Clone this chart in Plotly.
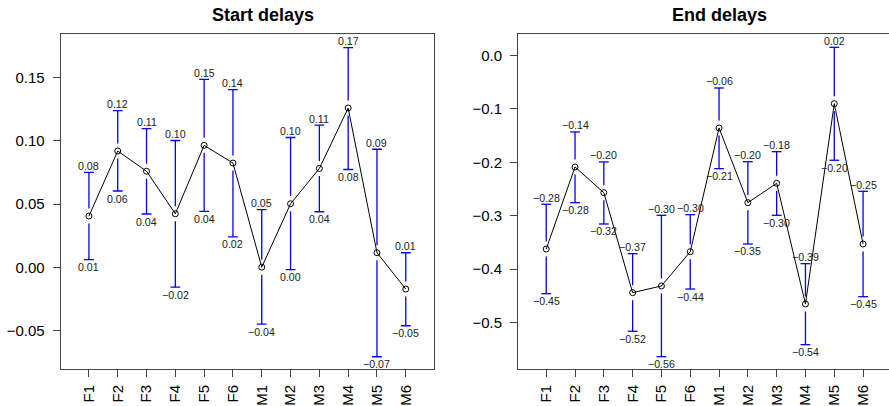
import plotly.graph_objects as go

# Participants on the x axis
categories = ["F1", "F2", "F3", "F4", "F5", "F6", "M1", "M2", "M3", "M4", "M5", "M6"]

# Start delays: mean with lower/upper confidence limits
start_mean = [0.0406, 0.0920, 0.0760, 0.0424, 0.0965, 0.0825, 0.0002, 0.0503, 0.0782, 0.1260, 0.0116, -0.0171]
start_lower = [0.0062, 0.0604, 0.0422, -0.0156, 0.0443, 0.0242, -0.0448, -0.0018, 0.0440, 0.0774, -0.0706, -0.0461]
start_upper = [0.0752, 0.1239, 0.1097, 0.1003, 0.1487, 0.1406, 0.0456, 0.1027, 0.1124, 0.1738, 0.0934, 0.0116]

# End delays: mean with lower/upper confidence limits
end_mean = [-0.3625, -0.2087, -0.2569, -0.4444, -0.4318, -0.3675, -0.1356, -0.2756, -0.2393, -0.4656, -0.0900, -0.3531]
end_lower = [-0.4463, -0.2756, -0.3156, -0.5168, -0.5644, -0.4376, -0.2119, -0.3531, -0.2993, -0.5419, -0.1961, -0.4519]
end_upper = [-0.2786, -0.1431, -0.1993, -0.3713, -0.2993, -0.2981, -0.0606, -0.1988, -0.1800, -0.3900, 0.0156, -0.2543]

W, H = 889, 406
M_TOP, M_BOT = 34, 37
PLOT_H = H - M_TOP - M_BOT

left_dom = [60.7 / W, 434 / W]
right_dom = [518 / W, 1.0]
left_yr = [-0.0803, 0.1845]
right_yr = [-0.5875, 0.0406]
left_xr = [0.02, 12.98]
right_xr = [0.02, 0.02 + (W - 518) / ((434 - 60.7) / 12.96)]

AXIS_COL = "#444444"
BAR_COL = "#0000FF"
CAP_HALF = 0.17      # half cap width, x units
GAP_PX = 7.5         # blank space around each mean point, pixels
MINUS = "\u2212"


def fmt(v):
    r = round(v, 2)
    s = f"{abs(v):.2f}"
    return MINUS + s if r < 0 else s


def ci_panel(fig, mean, lower, upper, yr, xa, ya):
    gap = GAP_PX * (yr[1] - yr[0]) / PLOT_H
    xs, ys = [], []
    for i, (m, lo, hi) in enumerate(zip(mean, lower, upper)):
        x = i + 1
        if hi - m > gap:
            xs += [x, x, None]
            ys += [m + gap, hi, None]
        if m - lo > gap:
            xs += [x, x, None]
            ys += [m - gap, lo, None]
        xs += [x - CAP_HALF, x + CAP_HALF, None, x - CAP_HALF, x + CAP_HALF, None]
        ys += [hi, hi, None, lo, lo, None]
    fig.add_trace(go.Scatter(x=xs, y=ys, mode="lines", line=dict(color=BAR_COL, width=1.3),
                             xaxis=xa, yaxis=ya, hoverinfo="skip", showlegend=False))
    fig.add_trace(go.Scatter(x=list(range(1, len(mean) + 1)), y=mean, mode="lines+markers",
                             line=dict(color="black", width=1),
                             marker=dict(symbol="circle-open", size=6, color="black",
                                         line=dict(width=1)),
                             xaxis=xa, yaxis=ya, showlegend=False))
    for i, (lo, hi) in enumerate(zip(lower, upper)):
        x = i + 1
        fig.add_annotation(x=x, y=hi, xref=xa, yref=ya, text=fmt(hi), showarrow=False,
                           yanchor="middle", yshift=6.5, font=dict(size=10.6, color="#222"))
        fig.add_annotation(x=x, y=lo, xref=xa, yref=ya, text=fmt(lo), showarrow=False,
                           yanchor="middle", yshift=-7.5, font=dict(size=10.6, color="#222"))


fig = go.Figure()
ci_panel(fig, start_mean, start_lower, start_upper, left_yr, "x", "y")
ci_panel(fig, end_mean, end_lower, end_upper, right_yr, "x2", "y2")

xcommon = dict(tickmode="array", tickvals=list(range(1, 13)), ticktext=categories,
               tickangle=-90, ticks="outside", ticklen=7, tickcolor=AXIS_COL, tickwidth=1,
               showline=True, linecolor=AXIS_COL, linewidth=1, showgrid=False, zeroline=False,
               tickfont=dict(size=15, color="black"), ticklabelstandoff=2)
ycommon = dict(ticks="outside", ticklen=7, tickcolor=AXIS_COL, tickwidth=1,
               showline=True, linecolor=AXIS_COL, linewidth=1, showgrid=False, zeroline=False,
               tickfont=dict(size=15, color="black"), ticklabelstandoff=5)

fig.update_layout(
    width=W, height=H,
    margin=dict(l=0, r=0, t=M_TOP, b=M_BOT, autoexpand=False),
    paper_bgcolor="white", plot_bgcolor="white",
    font=dict(family="Liberation Sans, Arial, sans-serif", color="black"),
    xaxis=dict(domain=left_dom, range=left_xr, mirror=True, anchor="y", **xcommon),
    yaxis=dict(domain=[0, 1], range=left_yr, mirror=True, anchor="x",
               tickvals=[-0.05, 0.0, 0.05, 0.10, 0.15], tickformat=".2f", **ycommon),
    xaxis2=dict(domain=right_dom, range=right_xr, mirror=True, anchor="y2", **xcommon),
    yaxis2=dict(domain=[0, 1], range=right_yr, mirror=False, anchor="x2",
                tickvals=[-0.5, -0.4, -0.3, -0.2, -0.1, 0.0], tickformat=".1f", **ycommon),
)

for label, xc in (("Start delays", 263), ("End delays", 719.5)):
    fig.add_annotation(x=xc / W, y=1 + (M_TOP - 15) / PLOT_H, xref="paper", yref="paper",
                       text=f"<b>{label}</b>", showarrow=False, xanchor="center", yanchor="middle",
                       font=dict(size=18, color="black"))

fig.write_html("out.html")
